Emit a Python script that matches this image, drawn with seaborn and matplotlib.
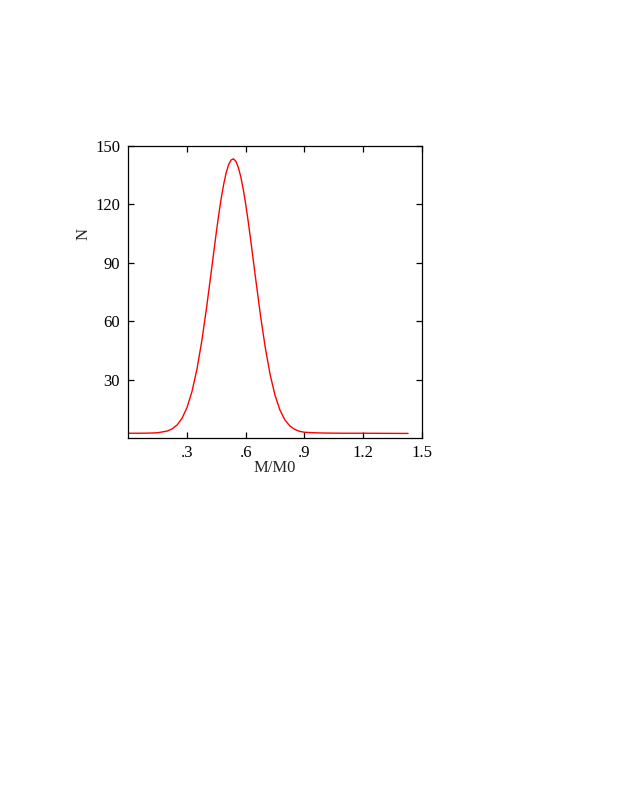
import numpy as np
import pandas as pd
import matplotlib
matplotlib.use("Agg")
import matplotlib.pyplot as plt
import seaborn as sns

# values
mass_ratio = [0.0, 0.05, 0.10, 0.15, 0.20, 0.225, 0.25, 0.275, 0.30, 0.325,
              0.35, 0.375, 0.40, 0.425, 0.45, 0.4625, 0.475, 0.4875, 0.50,
              0.5125, 0.525, 0.5375, 0.55, 0.5625, 0.575, 0.5875, 0.60,
              0.6125, 0.625, 0.65, 0.675, 0.70, 0.725, 0.75, 0.775, 0.80,
              0.825, 0.85, 0.875, 0.90, 0.95, 1.00, 1.10, 1.20, 1.30, 1.43]
counts = [2.6, 2.6, 2.65, 2.85, 3.75, 4.9, 6.9, 10.4, 15.8, 23.9,
          35.1, 49.6, 67.1, 86.4, 105.9, 115.0, 123.3, 130.4, 136.2,
          140.4, 142.8, 143.4, 142.1, 138.9, 134.1, 127.7, 120.1,
          111.4, 102.1, 82.5, 63.4, 46.5, 32.6, 22.0, 14.5, 9.5,
          6.4, 4.6, 3.6, 3.1, 2.85, 2.7, 2.6, 2.6, 2.55, 2.5]

xticks = [0.3, 0.6, 0.9, 1.2, 1.5]
xtick_labels = [".3", ".6", ".9", "1.2", "1.5"]
yticks = [30, 60, 90, 120, 150]

df = pd.DataFrame({"M/M0": mass_ratio, "N": counts})

sns.set_style("ticks")
plt.rcParams['font.family'] = ['Liberation Serif', 'DejaVu Serif']

fig = plt.figure(figsize=(6.23, 8.06), dpi=100)
ax = fig.add_axes([0.206, 0.4562, 0.471, 0.3627])

sns.lineplot(data=df, x="M/M0", y="N", color="#ff0000", linewidth=1.0, ax=ax)

ax.set_xlim(0, 1.5)
ax.set_ylim(0, 150)
ax.set_xticks(xticks)
ax.set_xticklabels(xtick_labels)
ax.set_yticks(yticks)
ax.tick_params(direction="in", length=4, width=0.9, top=True, right=True,
               labelsize=12, color="black", labelcolor="black")
ax.tick_params(axis="x", pad=5)
ax.tick_params(axis="y", pad=6)
for s in ax.spines.values():
    s.set_linewidth(0.9)
    s.set_color("black")

ax.set_xlabel("M/M0", fontsize=12)
ax.set_ylabel("N", fontsize=12)
ax.xaxis.set_label_coords(0.5, -0.075)
ax.yaxis.set_label_coords(-0.125, 0.70)

fig.savefig("out.png", dpi=100)
